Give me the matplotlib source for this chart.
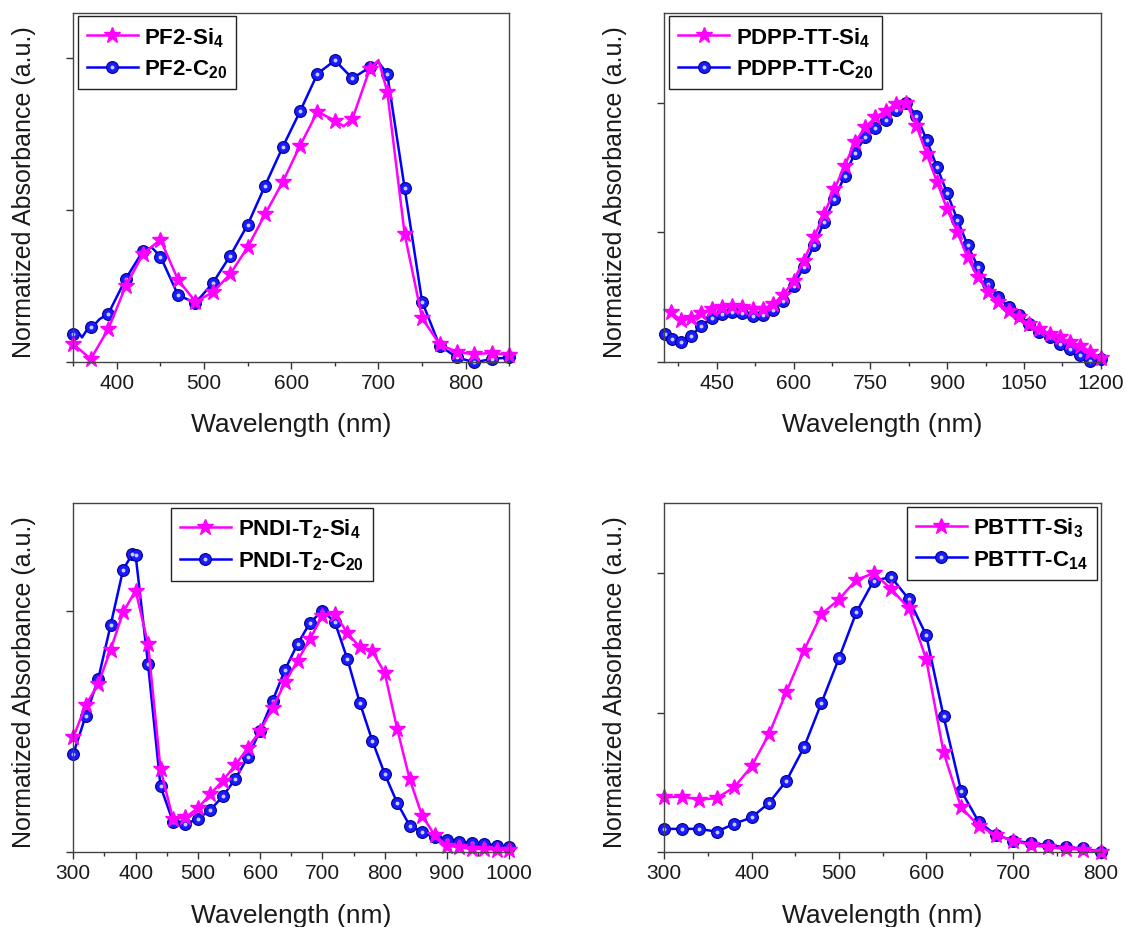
import numpy as np
import matplotlib
matplotlib.use("Agg")
from matplotlib import pyplot as plt
from matplotlib.ticker import MultipleLocator
from matplotlib.legend_handler import HandlerTuple

plt.rcParams['font.family'] = ['Liberation Sans', 'DejaVu Sans']
plt.rcParams['mathtext.fontset'] = 'custom'
plt.rcParams['mathtext.rm'] = 'Liberation Sans:bold'
plt.rcParams['mathtext.bf'] = 'Liberation Sans:bold'
plt.rcParams['mathtext.default'] = 'bf'

PINK = '#ff00ff'
BLUE = '#0000ff'

# ---- PF2 (top left) ----
pf2_si_x = [350, 370, 390, 410, 430, 450, 470, 490, 510, 530, 550, 570, 590, 610,
            630, 650, 660, 670, 690, 700, 710, 730, 750, 770, 790, 810, 830, 850]
pf2_si_y = [0.058, 0.009, 0.107, 0.248, 0.355, 0.402, 0.270, 0.198, 0.228, 0.289,
            0.377, 0.486, 0.591, 0.711, 0.823, 0.794, 0.775, 0.799, 0.964, 0.993,
            0.889, 0.420, 0.143, 0.058, 0.031, 0.025, 0.029, 0.022]
pf2_c_x = [350, 355, 360, 365, 370, 375, 380, 390, 410, 430, 440, 450, 470, 490, 510,
           530, 550, 570, 590, 610, 630, 650, 670, 690, 700, 710, 730, 750, 770,
           790, 810, 830, 850]
pf2_c_y = [0.091, 0.100, 0.080, 0.102, 0.113, 0.124, 0.140, 0.157, 0.272, 0.365,
           0.376, 0.346, 0.220, 0.193, 0.259, 0.349, 0.451, 0.580, 0.706, 0.824,
           0.948, 0.992, 0.933, 0.969, 0.986, 0.948, 0.571, 0.198, 0.053, 0.014,
           -0.002, 0.009, 0.014]

# ---- PDPP-TT (top right) ----
pdpp_si_x = list(range(360, 1201, 20))
pdpp_si_y = [0.190, 0.162, 0.167, 0.188, 0.203, 0.210, 0.214, 0.210, 0.203, 0.203,
             0.223, 0.257, 0.313, 0.390, 0.480, 0.570, 0.667, 0.757, 0.847, 0.905,
             0.943, 0.969, 0.995, 1.000, 0.911, 0.802, 0.695, 0.589, 0.499, 0.403,
             0.326, 0.270, 0.229, 0.197, 0.171, 0.145, 0.126, 0.107, 0.094, 0.075,
             0.062, 0.039, 0.013]
pdpp_c_x = [348, 362] + list(range(380, 1201, 20))
pdpp_c_y = [0.107, 0.088, 0.075, 0.100, 0.139, 0.167, 0.184, 0.190, 0.188, 0.178,
            0.180, 0.201, 0.236, 0.293, 0.367, 0.450, 0.541, 0.628, 0.718, 0.806,
            0.866, 0.901, 0.934, 0.973, 1.000, 0.950, 0.856, 0.753, 0.651, 0.548,
            0.450, 0.367, 0.300, 0.251, 0.210, 0.180, 0.145, 0.113, 0.094, 0.068,
            0.049, 0.026, 0.004, 0.010]

# ---- PNDI-T2 (bottom left) ----
pndi_si_x = list(range(300, 1001, 20))
pndi_si_y = [0.477, 0.611, 0.698, 0.841, 0.996, 1.086, 0.864, 0.346, 0.138, 0.145,
             0.183, 0.242, 0.297, 0.362, 0.432, 0.505, 0.598, 0.705, 0.795, 0.885,
             0.982, 0.989, 0.910, 0.851, 0.834, 0.744, 0.512, 0.304, 0.152, 0.072,
             0.028, 0.021, 0.014, 0.014, 0.011, 0.011]
pndi_c_x = [300, 320, 340, 360, 380, 395, 400] + list(range(420, 1001, 20))
pndi_c_y = [0.408, 0.567, 0.719, 0.943, 1.173, 1.238, 1.234, 0.781, 0.274, 0.127,
            0.118, 0.138, 0.176, 0.232, 0.304, 0.394, 0.505, 0.629, 0.758, 0.864,
            0.952, 1.003, 0.954, 0.802, 0.620, 0.463, 0.325, 0.205, 0.111, 0.083,
            0.062, 0.053, 0.044, 0.039, 0.035, 0.028, 0.021]

# ---- PBTTT (bottom right) ----
pbttt_si_x = list(range(300, 801, 20))
pbttt_si_y = [0.197, 0.200, 0.189, 0.194, 0.233, 0.308, 0.424, 0.576, 0.723, 0.854,
              0.906, 0.977, 1.000, 0.944, 0.875, 0.693, 0.358, 0.161, 0.096, 0.062,
              0.042, 0.026, 0.018, 0.012, 0.010, 0.002]
pbttt_c_x = list(range(300, 801, 20))
pbttt_c_y = [0.084, 0.084, 0.084, 0.074, 0.102, 0.125, 0.177, 0.257, 0.376, 0.535,
             0.695, 0.860, 0.974, 0.986, 0.908, 0.779, 0.487, 0.221, 0.110, 0.062,
             0.042, 0.033, 0.026, 0.018, 0.014, 0.002]

fig = plt.figure(figsize=(11.27, 9.28), dpi=100)
W, H = 1127, 928


def rect(l, r, t, b):
    return [l / W, 1 - b / H, (r - l) / W, (b - t) / H]


def marks(xs, only_odd):
    if not only_odd:
        return None
    return [i for i, x in enumerate(xs) if x % 20 == 10]


def panel(pos, sx, sy, cx, cy, lab_si, lab_c, xlim, ylim, xmaj, xmin, ymaj,
          leg_anchor, leg_loc, odd_marks=False):
    ax = fig.add_axes(rect(*pos))
    bl, = ax.plot(cx, cy, color=BLUE, lw=1.8, marker='o', ms=8.5, mfc='#1a1aff',
                  mec='#00008b', mew=0.8, markevery=marks(cx, odd_marks), clip_on=False)
    hl, = ax.plot(cx, cy, ls='none', marker='o', ms=2.8, mfc='#c9cdff', mec='none',
                  markevery=marks(cx, odd_marks), clip_on=False)
    pl, = ax.plot(sx, sy, color=PINK, lw=1.8, marker='*', ms=12, mfc=PINK, mec=PINK,
                  markevery=marks(sx, odd_marks), clip_on=False)
    ax.set_xlim(*xlim)
    ax.set_ylim(*ylim)
    ax.xaxis.set_major_locator(MultipleLocator(xmaj))
    ax.xaxis.set_minor_locator(MultipleLocator(xmin))
    ax.yaxis.set_major_locator(MultipleLocator(ymaj))
    ax.tick_params(axis='both', which='major', direction='out', length=5, width=1,
                   color='#333333', labelsize=15, pad=3, labelcolor='#1a1a1a')
    ax.tick_params(axis='x', which='minor', direction='out', length=3, width=1,
                   color='#333333')
    ax.tick_params(axis='y', labelleft=False)
    for s in ax.spines.values():
        s.set_color('#444444')
        s.set_linewidth(1)
    ax.set_xlabel('Wavelength (nm)', fontsize=19, color='#1a1a1a')
    ax.xaxis.set_label_coords(0.5, -0.2)
    ax.xaxis.label.set_va('baseline')
    ax.set_ylabel('Normatized Absorbance (a.u.)', fontsize=18, color='#1a1a1a')
    ax.yaxis.set_label_coords(-37.0 / (pos[1] - pos[0]), 0.49)
    leg = ax.legend([pl, (bl, hl)], [lab_si, lab_c], loc=leg_loc,
                    bbox_to_anchor=(leg_anchor[0] / W, 1 - leg_anchor[1] / H),
                    bbox_transform=fig.transFigure, borderaxespad=0,
                    handler_map={tuple: HandlerTuple(ndivide=1, pad=0)},
                    fancybox=False, framealpha=1, edgecolor='#222222',
                    prop={'weight': 'bold', 'size': 16}, handlelength=2.3,
                    handletextpad=0.3, labelspacing=0.4, borderpad=0.4)
    leg.get_frame().set_linewidth(1)
    return ax


panel((73.3, 509.3, 14, 362.7), pf2_si_x, pf2_si_y, pf2_c_x, pf2_c_y,
      r'PF2-Si$_4$', r'PF2-C$_{20}$', (350, 850), (0, 1.148), 100, 50, 0.5,
      (77.7, 17.3), 'upper left', odd_marks=True)
panel((664.3, 1100.7, 14, 362.7), pdpp_si_x, pdpp_si_y, pdpp_c_x, pdpp_c_y,
      r'PDPP-TT-Si$_4$', r'PDPP-TT-C$_{20}$', (347.6, 1200), (0, 1.346), 150, 75, 0.5,
      (669.3, 17.3), 'upper left')
panel((73.3, 509.3, 504, 853.3), pndi_si_x, pndi_si_y, pndi_c_x, pndi_c_y,
      r'PNDI-T$_2$-Si$_4$', r'PNDI-T$_2$-C$_{20}$', (300, 1000), (0, 1.449), 100, 50, 1,
      (171, 509), 'upper left')
panel((664.3, 1100.7, 504, 853.3), pbttt_si_x, pbttt_si_y, pbttt_c_x, pbttt_c_y,
      r'PBTTT-Si$_3$', r'PBTTT-C$_{14}$', (300, 800), (0, 1.252), 100, 50, 0.5,
      (1096.7, 507.7), 'upper right')

fig.savefig('out.png', dpi=100, facecolor='white')
